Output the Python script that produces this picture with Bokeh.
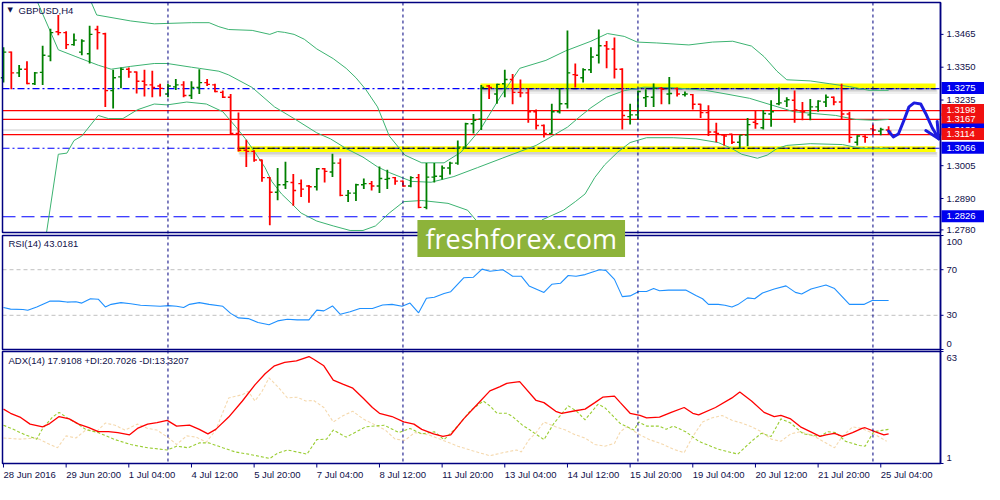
import math
from bokeh.plotting import figure
from bokeh.models import Range1d, Label
from bokeh.core.properties import value
from bokeh.embed import file_html
from bokeh.resources import INLINE

# ---------------- data ----------------
symbol_title = "GBPUSD,H4"
rsi_title = "RSI(14) 43.0181"
adx_title = "ADX(14) 17.9108 +DI:20.7026 -DI:13.3207"
watermark_text = "freshforex.com"

bar_open = [
    1.3313, 1.3403, 1.3330, 1.3343, 1.3292, 1.3332, 1.3389, 1.3474, 1.3471, 1.3429,
    1.3403, 1.3397, 1.3482, 1.3467, 1.3268, 1.3316, 1.3343, 1.3333, 1.3301, 1.3288,
    1.3284, 1.3256, 1.3281, 1.3288, 1.3251, 1.3279, 1.3296, 1.3288, 1.3262, 1.3245,
    1.3118, 1.3059, 1.3055, 1.3025, 1.2963, 1.2912, 1.2938, 1.2946, 1.2942, 1.2934,
    1.2931, 1.2994, 1.2983, 1.3014, 1.2901, 1.2909, 1.2938, 1.2942, 1.2934, 1.2957,
    1.2963, 1.2951, 1.2934, 1.2963, 1.2859, 1.2965, 1.2968, 1.2997, 1.3014, 1.3070,
    1.3152, 1.3168, 1.3284, 1.3256, 1.3292, 1.3307, 1.3262, 1.3260, 1.3194, 1.3146,
    1.3118, 1.3194, 1.3222, 1.3324, 1.3313, 1.3341, 1.3392, 1.3425, 1.3414, 1.3343,
    1.3177, 1.3183, 1.3243, 1.3245, 1.3276, 1.3256, 1.3275, 1.3254, 1.3254, 1.3220,
    1.3191, 1.3123, 1.3112, 1.3115, 1.3087, 1.3112, 1.3157, 1.3138, 1.3186, 1.3222,
    1.3231, 1.3234, 1.3196, 1.3183, 1.3211, 1.3228, 1.3245, 1.3228, 1.3186, 1.3087,
    1.3107, 1.3134, 1.3126, 1.3130,
]
bar_high = [
    1.3420, 1.3405, 1.3358, 1.3371, 1.3333, 1.3425, 1.3485, 1.3533, 1.3476, 1.3468,
    1.3448, 1.3495, 1.3495, 1.3471, 1.3341, 1.3349, 1.3349, 1.3335, 1.3341, 1.3338,
    1.3292, 1.3292, 1.3309, 1.3301, 1.3301, 1.3343, 1.3309, 1.3292, 1.3268, 1.3256,
    1.3191, 1.3096, 1.3059, 1.3027, 1.2965, 1.2997, 1.3019, 1.2976, 1.2957, 1.2937,
    1.2997, 1.2997, 1.3047, 1.3030, 1.2920, 1.2942, 1.2960, 1.2951, 1.3002, 1.2991,
    1.2965, 1.2953, 1.2968, 1.2976, 1.3014, 1.3014, 1.3006, 1.3019, 1.3093, 1.3155,
    1.3186, 1.3288, 1.3288, 1.3292, 1.3341, 1.3326, 1.3307, 1.3276, 1.3202, 1.3149,
    1.3222, 1.3276, 1.3479, 1.3363, 1.3346, 1.3420, 1.3482, 1.3442, 1.3454, 1.3346,
    1.3222, 1.3268, 1.3273, 1.3293, 1.3281, 1.3316, 1.3279, 1.3265, 1.3256, 1.3222,
    1.3217, 1.3155, 1.3115, 1.3117, 1.3112, 1.3172, 1.3200, 1.3200, 1.3234, 1.3279,
    1.3245, 1.3268, 1.3228, 1.3239, 1.3234, 1.3254, 1.3247, 1.3292, 1.3194, 1.3112,
    1.3112, 1.3149, 1.3138, 1.3143,
]
bar_low = [
    1.3296, 1.3273, 1.3316, 1.3290, 1.3288, 1.3288, 1.3371, 1.3462, 1.3414, 1.3425,
    1.3392, 1.3363, 1.3412, 1.3211, 1.3205, 1.3276, 1.3313, 1.3258, 1.3247, 1.3245,
    1.3247, 1.3245, 1.3270, 1.3245, 1.3239, 1.3256, 1.3284, 1.3262, 1.3242, 1.3115,
    1.3055, 1.3000, 1.3019, 1.2949, 1.2796, 1.2884, 1.2923, 1.2865, 1.2895, 1.2875,
    1.2918, 1.2946, 1.2965, 1.2898, 1.2878, 1.2881, 1.2923, 1.2918, 1.2909, 1.2923,
    1.2938, 1.2931, 1.2929, 1.2856, 1.2852, 1.2946, 1.2957, 1.2974, 1.3008, 1.3064,
    1.3118, 1.3130, 1.3239, 1.3222, 1.3245, 1.3220, 1.3245, 1.3155, 1.3132, 1.3104,
    1.3117, 1.3188, 1.3205, 1.3279, 1.3296, 1.3330, 1.3363, 1.3346, 1.3310, 1.3132,
    1.3149, 1.3166, 1.3211, 1.3211, 1.3220, 1.3220, 1.3247, 1.3247, 1.3202, 1.3172,
    1.3109, 1.3087, 1.3076, 1.3081, 1.3064, 1.3073, 1.3134, 1.3132, 1.3141, 1.3217,
    1.3211, 1.3155, 1.3164, 1.3164, 1.3194, 1.3211, 1.3217, 1.3166, 1.3085, 1.3076,
    1.3085, 1.3115, 1.3112, 1.3115,
]
bar_close = [
    1.3403, 1.3330, 1.3343, 1.3293, 1.3330, 1.3392, 1.3471, 1.3471, 1.3429, 1.3445,
    1.3442, 1.3465, 1.3471, 1.3268, 1.3313, 1.3343, 1.3333, 1.3301, 1.3288, 1.3279,
    1.3276, 1.3284, 1.3288, 1.3251, 1.3279, 1.3296, 1.3290, 1.3265, 1.3245, 1.3118,
    1.3059, 1.3055, 1.3025, 1.2963, 1.2912, 1.2938, 1.2949, 1.2918, 1.2923, 1.2931,
    1.2994, 1.2985, 1.3014, 1.2901, 1.2909, 1.2938, 1.2942, 1.2934, 1.2960, 1.2960,
    1.2951, 1.2934, 1.2963, 1.2859, 1.2965, 1.2968, 1.2997, 1.3014, 1.3070, 1.3152,
    1.3164, 1.3279, 1.3279, 1.3290, 1.3307, 1.3262, 1.3260, 1.3194, 1.3146, 1.3118,
    1.3194, 1.3222, 1.3330, 1.3322, 1.3341, 1.3386, 1.3425, 1.3414, 1.3343, 1.3181,
    1.3183, 1.3265, 1.3247, 1.3276, 1.3273, 1.3258, 1.3256, 1.3256, 1.3220, 1.3191,
    1.3123, 1.3118, 1.3109, 1.3087, 1.3112, 1.3149, 1.3152, 1.3188, 1.3194, 1.3225,
    1.3236, 1.3200, 1.3194, 1.3211, 1.3231, 1.3245, 1.3228, 1.3186, 1.3104, 1.3109,
    1.3104, 1.3130, 1.3132, 1.3126,
]

# Bollinger bands: (bar index, price)
bb_upper = [(10, 1.3620), (11.1, 1.3584), (11.9, 1.3533), (16.25, 1.3512), (19.25, 1.3502),
            (24, 1.3506), (26.25, 1.3506), (27.5, 1.3492), (28.75, 1.3482), (31.75, 1.3479),
            (34, 1.3465), (35, 1.3475), (35.9, 1.3472), (37.1, 1.3465), (38.4, 1.3448),
            (40, 1.3414), (42.1, 1.3380), (43.75, 1.3346), (45, 1.3313), (46.25, 1.3272),
            (47.75, 1.3211), (49.25, 1.3109), (51.25, 1.3042), (53.4, 1.3015), (56.25, 1.3015),
            (58.4, 1.3052), (60.9, 1.3133), (63.4, 1.3245), (65.9, 1.3346), (69.25, 1.3374),
            (71.75, 1.3407), (75, 1.3441), (77.1, 1.3468), (79.25, 1.3458), (80.9, 1.3438),
            (83.4, 1.3435), (87.5, 1.3428), (90.5, 1.3438), (93.1, 1.3441), (95.5, 1.3424),
            (97.1, 1.3387), (98.75, 1.3336), (100, 1.3306), (103, 1.3302), (105.5, 1.3292),
            (108, 1.3282), (110.5, 1.3269), (113, 1.3269)]
bb_middle = [(3, 1.3640), (4.25, 1.3584), (7, 1.3411), (9.25, 1.3387), (12.1, 1.3357),
             (13.75, 1.3343), (16.25, 1.3353), (19.25, 1.3363), (20.9, 1.3363), (24, 1.3350),
             (25, 1.3346), (27.5, 1.3336), (28.75, 1.3323), (31.75, 1.3279), (34.6, 1.3211),
             (37.1, 1.3170), (40, 1.3120), (41.75, 1.3099), (43.75, 1.3065), (45.9, 1.3035),
             (47.75, 1.3001), (49.25, 1.2981), (52.1, 1.2950), (54.6, 1.2947), (57.5, 1.2967),
             (60.5, 1.2998), (63.75, 1.3032), (68, 1.3076), (72, 1.3140), (73.5, 1.3175),
             (75, 1.3208), (77, 1.3245), (79.25, 1.3268), (81.75, 1.3280), (85.5, 1.3278),
             (89.6, 1.3269), (92.5, 1.3255), (95.25, 1.3241), (98, 1.3218), (100.9, 1.3194),
             (103.75, 1.3187), (106.25, 1.3181), (108.75, 1.3167), (111.25, 1.3164), (113, 1.3167)]
bb_lower = [(4, 1.2700), (5.5, 1.2771), (7, 1.3045), (8.1, 1.3049), (9, 1.3093), (10, 1.3109),
            (12.1, 1.3181), (13.4, 1.3170), (15.25, 1.3170), (17.1, 1.3201), (19.25, 1.3221),
            (20.9, 1.3218), (23.4, 1.3228), (25.9, 1.3221), (28, 1.3194), (29.6, 1.3143),
            (30.9, 1.3099), (32.1, 1.3052), (33.4, 1.2998), (34.25, 1.2950), (35.5, 1.2906),
            (36.75, 1.2873), (38, 1.2839), (40, 1.2811), (42.1, 1.2794), (44.25, 1.2778),
            (45.9, 1.2778), (47.5, 1.2794), (49.25, 1.2839), (51.1, 1.2879), (53.4, 1.2883),
            (56.75, 1.2873), (59.25, 1.2849), (60.6, 1.2805), (61.5, 1.2754), (64.6, 1.2720),
            (67.75, 1.2754), (68.75, 1.2815), (71.5, 1.2849), (73, 1.2879), (74.25, 1.2906),
            (75.5, 1.2964), (76.75, 1.3008), (78.4, 1.3052), (80, 1.3086), (82.1, 1.3103),
            (85.5, 1.3103), (88.4, 1.3099), (91.25, 1.3086), (93, 1.3065), (94.25, 1.3045),
            (96.25, 1.3031), (97.5, 1.3042), (98.75, 1.3065), (100, 1.3076), (103, 1.3082),
            (107.1, 1.3079), (109.6, 1.3065), (113, 1.3065)]

rsi_pts = [(0, 36.8), (0.9, 35.4), (2.5, 35.1), (3.1, 34.5), (4.25, 37.3), (5.9, 42.4), (7.1, 42.4),
           (8.1, 41.6), (9.25, 41.9), (10, 40.7), (11.1, 44.5), (12.1, 44.1), (13, 37.3), (13.75, 39.6),
           (15, 41.1), (16.25, 40.2), (17.5, 38.8), (20, 37.9), (21.1, 38.5), (22.1, 37.9), (23, 36.8),
           (23.75, 39.6), (25, 41.1), (26.25, 39.6), (28, 37.9), (29, 31.7), (30, 27.7), (31.25, 27.1),
           (32.5, 23.7), (33.9, 21.7), (35, 25.1), (36.25, 26.6), (37.5, 26.0), (39, 26.0), (40, 34.5),
           (40.9, 33.9), (42, 38.2), (43, 30.9), (44.25, 33.1), (45.5, 36.0), (47.1, 36.0), (48.4, 39.0),
           (49.6, 39.6), (50.9, 37.9), (51.9, 40.7), (53, 32.2), (54, 45.0), (55, 45.8), (56.25, 49.2),
           (57.1, 50.7), (58.75, 62.9), (60, 63.4), (61.1, 70.5), (62.1, 68.6), (63.75, 70.0), (65, 64.3),
           (66.1, 64.3), (67.1, 55.8), (69, 50.1), (70, 57.2), (71.1, 58.1), (72.1, 64.9), (73.1, 64.3),
           (74.25, 65.7), (76.1, 70.0), (76.9, 69.4), (78, 61.5), (79, 46.4), (80, 47.0), (81.1, 50.9),
           (82.1, 50.9), (83, 53.5), (83.75, 51.5), (84.9, 52.1), (87.1, 52.1), (88.4, 47.3), (89.25, 44.5),
           (90, 39.6), (91.25, 39.6), (92.1, 38.8), (93, 37.3), (93.75, 39.4), (95, 45.3), (95.9, 44.5),
           (96.9, 49.6), (98.4, 53.0), (99.9, 55.8), (101.1, 50.1), (101.9, 48.7), (103.1, 53.0),
           (105, 56.6), (106.1, 53.5), (108, 39.6), (109.9, 39.6), (110.9, 43.0), (113, 43.0)]

adx_pts = [(0, 31.1), (0.9, 28.8), (2.1, 26.7), (3.4, 22.8), (5, 21.3), (5.9, 23.1), (7.1, 27.0),
           (8.4, 25.7), (9.6, 22.8), (10.9, 20.9), (12.1, 18.6), (13.4, 18.6), (14.6, 18.1), (16.1, 16.9),
           (17.1, 20.4), (18.4, 22.8), (19.6, 23.6), (20.9, 24.9), (22.1, 21.7), (23.75, 22.2), (25, 19.9),
           (26.1, 17.4), (27.1, 19.9), (28.75, 26.7), (30.5, 35.6), (32.1, 44.5), (33.4, 50.7), (34.6, 55.1),
           (35.9, 57.0), (37.4, 57.8), (39, 60.2), (39.6, 58.7), (40.9, 55.1), (42.1, 47.1), (43.4, 44.8),
           (44.6, 42.7), (45.9, 37.3), (47.1, 32.0), (48, 28.8), (49.6, 27.0), (51.1, 24.0), (52.4, 22.8),
           (53.4, 19.9), (54.9, 17.4), (56.1, 16.0), (57.1, 16.9), (58.75, 25.7), (60.5, 33.8), (62.1, 41.2),
           (63.4, 43.6), (64.25, 45.4), (65.9, 46.3), (68, 35.9), (69, 34.7), (70.5, 29.9), (71.25, 28.8),
           (73, 30.2), (74.25, 31.1), (75.5, 34.7), (76.5, 37.7), (78, 38.3), (78.75, 34.7), (80, 28.8),
           (81.25, 27.6), (82.1, 26.3), (83.75, 26.7), (85.25, 29.3), (86.9, 32.0), (88, 28.8), (88.75, 27.9),
           (90.9, 32.0), (93, 37.3), (94, 40.6), (95.5, 35.6), (97.1, 29.3), (98.4, 27.0), (99.25, 27.6),
           (100.5, 25.7), (101.75, 21.3), (104.25, 16.0), (105, 16.9), (106.1, 17.7), (107.1, 16.0),
           (108.4, 18.1), (109.6, 20.4), (110, 20.8), (111.25, 18.6), (112.4, 16.9), (113, 17.4)]
plus_di_pts = [(0, 22.2), (1.25, 19.9), (2.5, 17.4), (4.25, 14.5), (5, 20.4), (6.25, 26.7), (7.1, 29.3),
               (8, 26.7), (9.4, 23.1), (10.5, 19.9), (12.1, 18.1), (14.25, 14.2), (16.25, 11.5), (18.4, 9.7),
               (20.9, 8.5), (22.1, 10.6), (23.6, 9.7), (25, 12.4), (26.25, 12.4), (28, 9.7), (29.6, 7.4),
               (31.25, 6.2), (34, 3.8), (35, 6.7), (36.25, 8.5), (38.75, 6.2), (40, 14.2), (41.25, 14.5),
               (42.1, 19.5), (43.75, 15.6), (46.25, 21.3), (48.6, 22.2), (50.5, 18.1), (51.9, 20.4),
               (53.4, 17.4), (55, 18.6), (56.25, 14.2), (58, 21.7), (59.6, 30.2), (61.25, 35.6), (62.1, 32.9),
               (63, 28.8), (64.25, 28.8), (65, 27.0), (66.25, 22.2), (67.1, 19.9), (69, 14.2), (70.25, 23.1),
               (72.1, 32.9), (73.1, 30.2), (74.25, 25.2), (75.9, 33.8), (76.75, 32.0), (78.75, 23.1),
               (80.5, 19.5), (81.1, 24.0), (82.1, 21.7), (83.75, 21.7), (84.6, 19.9), (85.5, 21.7),
               (87.1, 18.6), (88.75, 13.3), (91.25, 8.9), (93.75, 6.2), (95.5, 13.3), (96.75, 17.7),
               (98, 16.0), (99.25, 25.7), (100.5, 23.4), (102.1, 17.4), (104.25, 16.0), (105.25, 18.6),
               (106.25, 18.1), (107.5, 13.3), (109.25, 11.0), (110, 10.6), (111.1, 18.6), (113, 19.9)]
minus_di_pts = [(0, 15.1), (2.1, 14.5), (4.25, 15.1), (5.5, 12.4), (6.9, 9.7), (8, 16.3), (9.25, 15.1),
                (10.5, 19.5), (11.9, 18.6), (13, 23.4), (14.25, 22.2), (15.5, 19.5), (17.1, 22.8),
                (18.4, 20.4), (19.6, 19.5), (21.1, 15.1), (22.1, 11.5), (23.4, 16.3), (24.6, 15.6),
                (25.9, 12.8), (27.1, 19.5), (28.75, 37.3), (30.5, 39.1), (31.25, 40.9), (32.1, 35.6),
                (33, 40.9), (33.9, 48.4), (35, 43.6), (36.25, 37.3), (37.5, 37.7), (38.6, 35.6), (39.6, 35.9),
                (40.9, 32.0), (42.1, 24.0), (43.4, 27.6), (44.6, 29.9), (45.9, 25.7), (47.1, 23.1),
                (48.75, 19.5), (50, 14.5), (51.25, 13.8), (52.5, 18.1), (54.25, 16.9), (55.9, 14.2),
                (58, 10.6), (60, 7.9), (62.1, 5.3), (63.75, 7.0), (65.5, 8.5), (66.1, 7.4), (67.1, 14.2),
                (68, 18.1), (69, 24.0), (70.5, 21.3), (71.75, 19.5), (73, 16.9), (74.25, 15.1), (75.5, 11.5),
                (76.75, 10.6), (78, 12.1), (78.75, 18.6), (79.6, 21.3), (81.25, 16.9), (82.5, 14.2),
                (84.25, 11.5), (85.5, 8.9), (86.9, 7.0), (88, 16.0), (89.25, 24.0), (90.5, 26.3),
                (91.75, 27.6), (93, 24.9), (94.25, 23.4), (95.5, 21.3), (96.75, 18.6), (98, 14.5),
                (99.25, 13.3), (100.5, 17.4), (101.75, 18.6), (103.4, 16.3), (104.6, 13.3), (106.1, 9.7),
                (107.1, 16.0), (108.4, 21.3), (109.6, 20.4), (111.1, 17.4), (112.75, 13.3)]

price_ticks = [1.2780, 1.2890, 1.3005, 1.3235, 1.3350, 1.3465]
rsi_ticks = [100, 70, 30, 0]
rsi_levels = [30, 70]
adx_ticks = [63, 1]

date_ticks = [0, 8, 16, 24, 32, 40, 48, 56, 64, 72, 80, 88, 96, 104, 112]
date_labels = ["28 Jun 2016", "29 Jun 20:00", "1 Jul 04:00", "4 Jul 12:00", "5 Jul 20:00",
               "7 Jul 04:00", "8 Jul 12:00", "11 Jul 20:00", "13 Jul 04:00", "14 Jul 12:00",
               "15 Jul 20:00", "19 Jul 04:00", "20 Jul 12:00", "21 Jul 20:00", "25 Jul 04:00"]
week_starts = [21, 51, 81, 111]

blue_dashdot_levels = [1.3275, 1.3066]
blue_dashed_levels = [1.2826]
red_levels = [1.3198, 1.3167, 1.3114]
bid_level = 1.3130

tag_prices = [1.3275, 1.3198, 1.3167, 1.3130, 1.3114, 1.3066, 1.2826]
tag_kinds = ["blue", "red", "red", "blue", "red", "blue", "blue"]

zone_left = [60.9, 29.9]
zone_right = [119.0, 119.0]
zone_bottom = [1.3274, 1.3053]
zone_top = [1.3293, 1.3073]
zone_mid = [1.3275, 1.3066]

forecast_path = [(113, 1.3126), (113.6, 1.3106), (114.25, 1.3116), (115, 1.3167), (115.6, 1.3211),
                 (116.25, 1.3225), (117.1, 1.3221), (117.75, 1.3187), (118.6, 1.3136), (119.4, 1.3099)]
forecast_head = [(117.75, 1.3128), (119.4, 1.3099), (119.2, 1.3160)]

# ---------------- style / layout ----------------
FONT = "Liberation Sans"
NAVY = "#000080"
TXT = "#10104a"
GREEN = "#008000"
RED = "#ff0000"
BB = "#3cb371"
BLUE = "#0000ff"
TAG_COL = {"blue": "#0000ee", "red": "#f01010"}
FS = "9.5px"

FIG_W, FIG_H = 984, 484
X0, X_AXIS = -0.125, 119.625          # left border and price-axis position (bar units)
PPB = 938 / (X_AXIS - X0)             # pixels per bar
x_start = X0 - 2 / PPB
x_end = x_start + FIG_W / PPB

P_LO, P_HI = 1.27709, 1.35767
MAIN_T, MAIN_B = 2, 232
RSI_T, RSI_B = 235, 349
ADX_T, ADX_B = 351, 463


def full_range(lo, hi, t, b):
    ppu = (b - t) / (hi - lo)
    return Range1d(start=lo - (FIG_H - b) / ppu, end=hi + t / ppu)


def px_to(lo, hi, t, b):
    upp = (hi - lo) / (b - t)
    return lambda dpx: dpx * upp


def price_at(fy):
    return P_HI - (fy - MAIN_T) * (P_HI - P_LO) / (MAIN_B - MAIN_T)


def clip_line(pts, lo, hi):
    xs_, ys_ = [], []
    prev = None
    for x, y in pts:
        inside = lo <= y <= hi
        if prev is not None:
            (px_, py_), pin = prev
            if pin != inside:
                edge = hi if (y > hi or py_ > hi) else lo
                t = (edge - py_) / (y - py_)
                xs_.append(px_ + t * (x - px_))
                ys_.append(edge)
                if pin and not inside:
                    xs_.append(math.nan)
                    ys_.append(math.nan)
        if inside:
            xs_.append(x)
            ys_.append(y)
        prev = ((x, y), inside)
    return xs_, ys_


def xs(pts):
    return [a for a, _ in pts]


def ys(pts):
    return [b for _, b in pts]


p = figure(width=FIG_W, height=FIG_H, x_range=Range1d(x_start, x_end),
           y_range=full_range(P_LO, P_HI, MAIN_T, MAIN_B),
           toolbar_location=None, output_backend="svg",
           x_axis_location=None, y_axis_location=None,
           min_border_left=0, min_border_right=0, min_border_top=0, min_border_bottom=0)
p.extra_y_ranges = {"rsi": full_range(0, 100, RSI_T, RSI_B),
                    "adx": full_range(1, 63, ADX_T, ADX_B)}
p.xgrid.visible = False
p.ygrid.visible = False
p.outline_line_color = None
p.background_fill_color = "white"
p.border_fill_color = "white"

dp_price = px_to(P_LO, P_HI, MAIN_T, MAIN_B)
dp_rsi = px_to(0, 100, RSI_T, RSI_B)
dp_adx = px_to(1, 63, ADX_T, ADX_B)
dx = lambda dpx: dpx / PPB

# ---------------- price panel ----------------
# highlighted zones with soft shadow
p.quad(left=[l + dx(2) for l in zone_left], right=[r + dx(2) for r in zone_right],
       bottom=[b - dp_price(5) for b in zone_bottom], top=zone_bottom,
       fill_color="#9a9a9a", fill_alpha=0.16, line_color=None)
p.quad(left=[l + dx(1) for l in zone_left], right=[r + dx(1) for r in zone_right],
       bottom=[b - dp_price(2.5) for b in zone_bottom], top=zone_bottom,
       fill_color="#8a8a8a", fill_alpha=0.3, line_color=None)
p.quad(left=zone_left, right=zone_right, bottom=zone_bottom, top=zone_top,
       fill_color="#ffff00", line_color=None)

n_red = len(red_levels)
p.segment(x0=[X0] * n_red, x1=[X_AXIS] * n_red, y0=red_levels, y1=red_levels,
          line_color=RED, line_width=1.2)
p.segment(x0=[X0], x1=[X_AXIS], y0=[bid_level], y1=[bid_level], line_color="#cccccc", line_width=1)
p.segment(x0=[X0] * 2, x1=[X_AXIS] * 2, y0=blue_dashdot_levels, y1=blue_dashdot_levels,
          line_color=BLUE, line_width=1.2, line_dash="7 3 2 3")
p.segment(x0=[X0], x1=[X_AXIS], y0=blue_dashed_levels, y1=blue_dashed_levels,
          line_color=BLUE, line_width=1.2, line_dash="13 6")
p.segment(x0=zone_left, x1=zone_right, y0=zone_mid, y1=zone_mid,
          line_color=["#000066", "#000000"], line_width=1.2, line_dash="7 3 2 3")

for band in (bb_upper, bb_middle, bb_lower):
    bx, by = clip_line(band, P_LO, P_HI)
    p.line(bx, by, line_color=BB, line_width=1)

idx = list(range(len(bar_open)))
cols = [GREEN if c >= o else RED for o, c in zip(bar_open, bar_close)]
p.segment(x0=idx, x1=idx, y0=bar_low, y1=bar_high, line_color=cols, line_width=1.8)
p.segment(x0=[i - dx(2.8) for i in idx], x1=idx, y0=bar_open, y1=bar_open,
          line_color=cols, line_width=1.4)
p.segment(x0=idx, x1=[i + dx(2.8) for i in idx], y0=bar_close, y1=bar_close,
          line_color=cols, line_width=1.4)

p.line(xs(forecast_path), ys(forecast_path), line_color="#1c1ce0", line_width=3,
       line_join="round", line_cap="round")
p.line(xs(forecast_head), ys(forecast_head), line_color="#1c1ce0", line_width=3,
       line_join="round", line_cap="round")

p.quad(left=[X0], right=[X_AXIS], bottom=[P_LO], top=[P_HI], fill_color=None,
       line_color=NAVY, line_width=1.5)

# ---------------- RSI panel ----------------
p.segment(x0=[X0] * 2, x1=[X_AXIS] * 2, y0=rsi_levels, y1=rsi_levels, y_range_name="rsi",
          line_color="#c0c0c0", line_dash="4 3", line_width=1)
p.line(xs(rsi_pts), ys(rsi_pts), y_range_name="rsi", line_color="#1e90ff", line_width=1.1)
p.quad(left=[X0], right=[X_AXIS], bottom=[0], top=[100], y_range_name="rsi", fill_color=None,
       line_color=NAVY, line_width=1.5)

# ---------------- ADX panel ----------------
p.line(xs(minus_di_pts), ys(minus_di_pts), y_range_name="adx", line_color="#f5d9ae",
       line_width=1.1, line_dash="3 2")
p.line(xs(plus_di_pts), ys(plus_di_pts), y_range_name="adx", line_color="#9acd32",
       line_width=1.1, line_dash="3 2")
p.line(xs(adx_pts), ys(adx_pts), y_range_name="adx", line_color=RED, line_width=1.3)
p.quad(left=[X0], right=[X_AXIS], bottom=[1], top=[63], y_range_name="adx", fill_color=None,
       line_color=NAVY, line_width=1.5)

# week separators through all panels
nw = len(week_starts)
p.segment(x0=week_starts, x1=week_starts, y0=[price_at(MAIN_T)] * nw, y1=[price_at(ADX_B)] * nw,
          line_color=NAVY, line_dash="3 3", line_width=1)

# ---------------- time axis ----------------
nd = len(date_ticks)
p.segment(x0=date_ticks, x1=date_ticks, y0=[price_at(ADX_B)] * nd, y1=[price_at(ADX_B + 4)] * nd,
          line_color=NAVY, line_width=1)
p.text(x=date_ticks, y=[price_at(ADX_B + 11)] * nd, text=date_labels, text_font=value(FONT),
       text_font_size=FS, text_color=TXT, text_align="left", text_baseline="middle")

# ---------------- right-hand value axis ----------------
p.segment(x0=[X_AXIS], x1=[X_AXIS], y0=[price_at(MAIN_T)], y1=[price_at(ADX_B)],
          line_color=NAVY, line_width=1.5)
lab_x = X_AXIS + dx(6)
tick_x1 = X_AXIS + dx(3)

np_ = len(price_ticks)
p.segment(x0=[X_AXIS] * np_, x1=[tick_x1] * np_, y0=price_ticks, y1=price_ticks,
          line_color=NAVY, line_width=1)
p.text(x=[lab_x] * np_, y=price_ticks, text=[f"{v:.4f}" for v in price_ticks],
       text_font=value(FONT), text_font_size=FS, text_color=TXT, text_align="left",
       text_baseline="middle")


def panel_labels(ticks, lo, hi, conv, rname):
    inset = conv(6)
    pos = [min(max(v, lo + inset), hi - inset) for v in ticks]
    k = len(ticks)
    p.segment(x0=[X_AXIS] * k, x1=[tick_x1] * k, y0=ticks, y1=ticks, y_range_name=rname,
              line_color=NAVY, line_width=1)
    p.text(x=[lab_x] * k, y=pos, text=[str(v) for v in ticks], y_range_name=rname,
           text_font=value(FONT), text_font_size=FS, text_color=TXT, text_align="left",
           text_baseline="middle")


panel_labels(rsi_ticks, 0, 100, dp_rsi, "rsi")
panel_labels(adx_ticks, 1, 63, dp_adx, "adx")

# price tags on the axis (boxes sit about a pixel above their level, as in the terminal)
tag_up, tag_down, tag_shift = dp_price(6.5), dp_price(5.5), dp_price(0.5)
for pr, kind in zip(tag_prices, tag_kinds):
    p.quad(left=[X_AXIS + dx(1)], right=[x_end], bottom=[pr - tag_down], top=[pr + tag_up],
           fill_color=TAG_COL[kind], line_color=None)
    p.text(x=[lab_x], y=[pr + tag_shift], text=[f"{pr:.4f}"], text_font=value(FONT),
           text_font_size=FS, text_color="white", text_align="left", text_baseline="middle")

# ---------------- titles ----------------
p.add_layout(Label(x=X0, y=price_at(9.5), x_offset=5, text="\u25bc", text_font="DejaVu Sans",
                   text_font_size="7px", text_color=TXT, text_baseline="middle"))
p.add_layout(Label(x=X0, y=price_at(9.5), x_offset=16, text=symbol_title, text_font=FONT,
                   text_font_size=FS, text_color=TXT, text_baseline="middle"))
p.add_layout(Label(x=X0, y=100 - dp_rsi(8), y_range_name="rsi", x_offset=6, text=rsi_title,
                   text_font=FONT, text_font_size=FS, text_color=TXT, text_baseline="middle"))
p.add_layout(Label(x=X0, y=63 - dp_adx(9), y_range_name="adx", x_offset=6, text=adx_title,
                   text_font=FONT, text_font_size=FS, text_color=TXT, text_baseline="middle"))

# ---------------- watermark spanning price and RSI panels ----------------
p.add_layout(Label(x=66.1, y=price_at(238), text=watermark_text, text_font="Open Sans",
                   text_font_size="27px", text_color="white", text_align="center",
                   text_baseline="middle", background_fill_color="#8db33a", padding=(8, 0)))

open("out.html", "w").write(file_html(p, INLINE))
